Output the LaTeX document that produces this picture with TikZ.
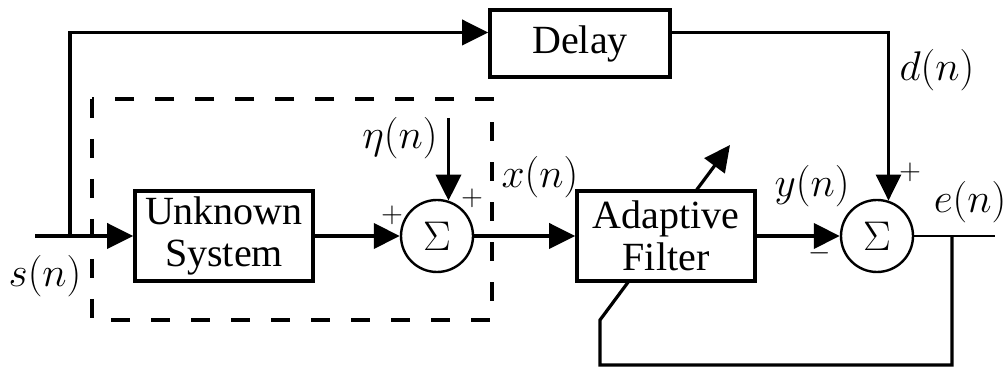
\documentclass[tikz,border=0pt]{standalone}
\usepackage{fontspec}
\setmainfont{Liberation Serif}
\usetikzlibrary{arrows.meta,positioning,backgrounds}

\begin{document}
\begin{tikzpicture}[x=0.5pt,y=-0.5pt,
    blk/.style={draw,line width=1.8pt,fill=white,minimum width=89pt,
      minimum height=45pt,align=center,inner sep=0pt,
      font=\fontsize{20}{21}\selectfont},
    sumnode/.style={draw,circle,line width=1.2pt,minimum size=36pt,
      inner sep=0pt,font=\fontsize{20}{24}\selectfont},
    tip/.style={-{Triangle[length=13pt,width=12.5pt]}},
    sig/.style={line width=1.9pt,tip},
    wire/.style={line width=1.4pt},
    lbl/.style={font=\fontsize{20}{22}\selectfont,inner sep=0pt},
    sgn/.style={font=\fontsize{15}{16}\selectfont,inner sep=0pt}]
  \useasboundingbox (0,0) rectangle (1008,367);
  \node[blk] (us) at (224,236) {Unknown\\System};
  \node[sumnode] (s1) at (437,236) {$\Sigma$};
  \node[blk] (af) at (666,236) {Adaptive\\Filter};
  \node[sumnode] (s2) at (877,236) {$\Sigma$};
  \node[blk,minimum width=90pt,minimum height=33.5pt] (dl)
    at (580,43.5) {Delay};
  \coordinate (in) at (35,236);
  \coordinate (br) at (70,236);
  \coordinate (etain) at (448,118);
  \coordinate (out) at (995,236);
  \coordinate (fb) at (952,236);
  \coordinate (fbl) at (600,365);
  \coordinate (ad1) at (600,320);
  \coordinate (ad2) at (730,145);
  \draw[line width=1.8pt,dash pattern=on 9.5pt off 10.5pt]
    (92,99) rectangle (492,320);
  \draw[sig] (in) -- (us.west);
  \draw[sig] (br) |- ([yshift=5.5pt]dl.west);
  \draw[sig] (us.east) -- (s1.west);
  \draw[sig] (s1.72 |- etain) -- (s1.72);
  \draw[sig] (s1.east) -- (af.west);
  \draw[sig] (af.east) -- (s2.west);
  \draw[wire,tip] ([yshift=5.5pt]dl.east) -| (s2.72);
  \draw[wire] (s2.east) -- (out);
  \begin{scope}[on background layer]
    \draw[wire,line width=1.6pt,tip] (fb) |- (fbl) -- (ad1) -- (ad2);
  \end{scope}
  \node[lbl] (sn) at (45,276) {$s(n)$};
  \node[lbl] (etan) at (400,138) {$\eta(n)$};
  \node[lbl] (xn) at (540,177) {$x(n)$};
  \node[lbl] (yn) at (812,186) {$y(n)$};
  \node[lbl] (en) at (970,202) {$e(n)$};
  \node[lbl] (dn) at (937,70) {$d(n)$};
  \node[sgn] (p1) at (392,215) {$+$};
  \node[sgn] (p2) at (472,198) {$+$};
  \node[sgn] (p3) at (910,172) {$+$};
  \node[sgn] (m1) at (820,253) {$-$};
\end{tikzpicture}
\end{document}
